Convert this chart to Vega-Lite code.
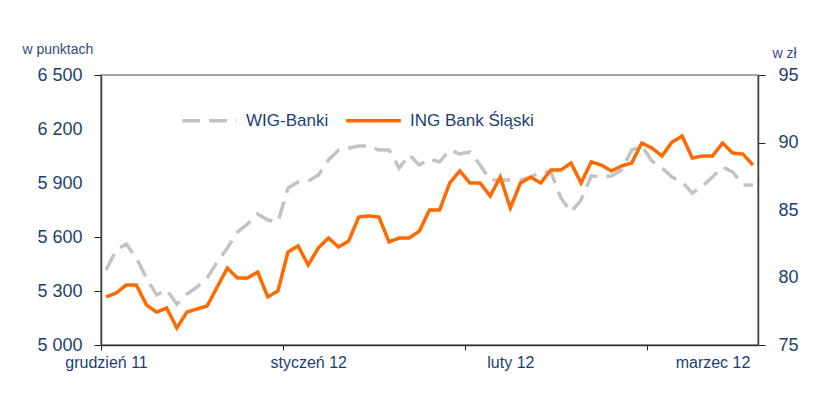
{
  "$schema": "https://vega.github.io/schema/vega-lite/v6.json",
  "width": 657,
  "height": 270,
  "autosize": {"type": "none"},
  "padding": {"left": 101, "top": 75, "right": 64, "bottom": 58},
  "background": "white",
  "config": {
    "font": "Liberation Sans",
    "view": {"stroke": "#8c8c8c", "strokeWidth": 1.5},
    "axis": {"domainColor": "#404040", "domainWidth": 1.5, "tickColor": "#202020", "tickWidth": 1, "labelColor": "#1B3F73", "labelFont": "Liberation Sans", "grid": false, "titleColor": "#2E4E7E", "titleFont": "Liberation Sans", "titleFontWeight": "normal"}
  },
  "data": {"values": [
    {"i":0,"s":"WIG-Banki","v":5417},{"i":1,"s":"WIG-Banki","v":5528},{"i":2,"s":"WIG-Banki","v":5561},{"i":3,"s":"WIG-Banki","v":5483},{"i":4,"s":"WIG-Banki","v":5372},{"i":5,"s":"WIG-Banki","v":5278},{"i":6,"s":"WIG-Banki","v":5306},{"i":7,"s":"WIG-Banki","v":5228},{"i":8,"s":"WIG-Banki","v":5283},{"i":9,"s":"WIG-Banki","v":5322},{"i":10,"s":"WIG-Banki","v":5372},{"i":11,"s":"WIG-Banki","v":5461},{"i":12,"s":"WIG-Banki","v":5539},{"i":13,"s":"WIG-Banki","v":5628},{"i":14,"s":"WIG-Banki","v":5672},{"i":15,"s":"WIG-Banki","v":5728},{"i":16,"s":"WIG-Banki","v":5694},{"i":17,"s":"WIG-Banki","v":5683},{"i":18,"s":"WIG-Banki","v":5872},{"i":19,"s":"WIG-Banki","v":5906},{"i":20,"s":"WIG-Banki","v":5911},{"i":21,"s":"WIG-Banki","v":5944},{"i":22,"s":"WIG-Banki","v":6028},{"i":23,"s":"WIG-Banki","v":6083},{"i":24,"s":"WIG-Banki","v":6094},{"i":25,"s":"WIG-Banki","v":6106},{"i":26,"s":"WIG-Banki","v":6106},{"i":27,"s":"WIG-Banki","v":6083},{"i":28,"s":"WIG-Banki","v":6083},{"i":29,"s":"WIG-Banki","v":5983},{"i":30,"s":"WIG-Banki","v":6056},{"i":31,"s":"WIG-Banki","v":6000},{"i":32,"s":"WIG-Banki","v":6033},{"i":33,"s":"WIG-Banki","v":6017},{"i":34,"s":"WIG-Banki","v":6083},{"i":35,"s":"WIG-Banki","v":6061},{"i":36,"s":"WIG-Banki","v":6072},{"i":37,"s":"WIG-Banki","v":6000},{"i":38,"s":"WIG-Banki","v":5917},{"i":39,"s":"WIG-Banki","v":5917},{"i":40,"s":"WIG-Banki","v":5917},{"i":41,"s":"WIG-Banki","v":5917},{"i":42,"s":"WIG-Banki","v":5933},{"i":43,"s":"WIG-Banki","v":5961},{"i":44,"s":"WIG-Banki","v":5961},{"i":45,"s":"WIG-Banki","v":5817},{"i":46,"s":"WIG-Banki","v":5739},{"i":47,"s":"WIG-Banki","v":5806},{"i":48,"s":"WIG-Banki","v":5939},{"i":49,"s":"WIG-Banki","v":5933},{"i":50,"s":"WIG-Banki","v":5939},{"i":51,"s":"WIG-Banki","v":5972},{"i":52,"s":"WIG-Banki","v":6083},{"i":53,"s":"WIG-Banki","v":6106},{"i":54,"s":"WIG-Banki","v":6022},{"i":55,"s":"WIG-Banki","v":5983},{"i":56,"s":"WIG-Banki","v":5933},{"i":57,"s":"WIG-Banki","v":5906},{"i":58,"s":"WIG-Banki","v":5844},{"i":59,"s":"WIG-Banki","v":5883},{"i":60,"s":"WIG-Banki","v":5933},{"i":61,"s":"WIG-Banki","v":5989},{"i":62,"s":"WIG-Banki","v":5961},{"i":63,"s":"WIG-Banki","v":5889},{"i":64,"s":"WIG-Banki","v":5889},
    {"i":0,"s":"ING Bank Śląski","v":78.56},{"i":1,"s":"ING Bank Śląski","v":78.85},{"i":2,"s":"ING Bank Śląski","v":79.44},{"i":3,"s":"ING Bank Śląski","v":79.44},{"i":4,"s":"ING Bank Śląski","v":77.96},{"i":5,"s":"ING Bank Śląski","v":77.44},{"i":6,"s":"ING Bank Śląski","v":77.74},{"i":7,"s":"ING Bank Śląski","v":76.26},{"i":8,"s":"ING Bank Śląski","v":77.44},{"i":9,"s":"ING Bank Śląski","v":77.67},{"i":10,"s":"ING Bank Śląski","v":77.89},{"i":11,"s":"ING Bank Śląski","v":79.3},{"i":12,"s":"ING Bank Śląski","v":80.7},{"i":13,"s":"ING Bank Śląski","v":79.96},{"i":14,"s":"ING Bank Śląski","v":79.96},{"i":15,"s":"ING Bank Śląski","v":80.41},{"i":16,"s":"ING Bank Śląski","v":78.56},{"i":17,"s":"ING Bank Śląski","v":79.0},{"i":18,"s":"ING Bank Śląski","v":81.89},{"i":19,"s":"ING Bank Śląski","v":82.33},{"i":20,"s":"ING Bank Śląski","v":80.93},{"i":21,"s":"ING Bank Śląski","v":82.19},{"i":22,"s":"ING Bank Śląski","v":82.93},{"i":23,"s":"ING Bank Śląski","v":82.26},{"i":24,"s":"ING Bank Śląski","v":82.7},{"i":25,"s":"ING Bank Śląski","v":84.48},{"i":26,"s":"ING Bank Śląski","v":84.56},{"i":27,"s":"ING Bank Śląski","v":84.48},{"i":28,"s":"ING Bank Śląski","v":82.63},{"i":29,"s":"ING Bank Śląski","v":82.93},{"i":30,"s":"ING Bank Śląski","v":82.93},{"i":31,"s":"ING Bank Śląski","v":83.44},{"i":32,"s":"ING Bank Śląski","v":85.0},{"i":33,"s":"ING Bank Śląski","v":85.0},{"i":34,"s":"ING Bank Śląski","v":87.0},{"i":35,"s":"ING Bank Śląski","v":87.89},{"i":36,"s":"ING Bank Śląski","v":87.0},{"i":37,"s":"ING Bank Śląski","v":87.0},{"i":38,"s":"ING Bank Śląski","v":86.04},{"i":39,"s":"ING Bank Śląski","v":87.44},{"i":40,"s":"ING Bank Śląski","v":85.15},{"i":41,"s":"ING Bank Śląski","v":87.0},{"i":42,"s":"ING Bank Śląski","v":87.44},{"i":43,"s":"ING Bank Śląski","v":87.0},{"i":44,"s":"ING Bank Śląski","v":87.96},{"i":45,"s":"ING Bank Śląski","v":87.96},{"i":46,"s":"ING Bank Śląski","v":88.48},{"i":47,"s":"ING Bank Śląski","v":87.0},{"i":48,"s":"ING Bank Śląski","v":88.56},{"i":49,"s":"ING Bank Śląski","v":88.33},{"i":50,"s":"ING Bank Śląski","v":87.89},{"i":51,"s":"ING Bank Śląski","v":88.26},{"i":52,"s":"ING Bank Śląski","v":88.48},{"i":53,"s":"ING Bank Śląski","v":89.96},{"i":54,"s":"ING Bank Śląski","v":89.59},{"i":55,"s":"ING Bank Śląski","v":89.0},{"i":56,"s":"ING Bank Śląski","v":90.04},{"i":57,"s":"ING Bank Śląski","v":90.48},{"i":58,"s":"ING Bank Śląski","v":88.85},{"i":59,"s":"ING Bank Śląski","v":89.0},{"i":60,"s":"ING Bank Śląski","v":89.0},{"i":61,"s":"ING Bank Śląski","v":89.96},{"i":62,"s":"ING Bank Śląski","v":89.22},{"i":63,"s":"ING Bank Śląski","v":89.15},{"i":64,"s":"ING Bank Śląski","v":88.33}
  ]},
  "layer": [
    {
      "transform": [{"filter": "datum.s == 'WIG-Banki'"}],
      "mark": {"type": "line", "strokeWidth": 3.5, "strokeCap": "butt"},
      "encoding": {
        "x": {"field": "i", "type": "quantitative", "scale": {"domain": [-0.5, 64.5], "nice": false, "zero": false},
          "axis": {"orient": "bottom", "title": null, "values": [-0.5, 17.5, 35.5, 53.5], "labels": false, "ticks": true, "tickSize": 5, "domainColor": "#303030"}},
        "y": {"field": "v", "type": "quantitative", "scale": {"domain": [5000, 6500], "nice": false, "zero": false},
          "axis": {"orient": "left", "values": [5000, 5300, 5600, 5900, 6200, 6500], "labelExpr": "replace(format(datum.value, ','), ',', ' ')", "labelFontSize": 18, "tickSize": 7, "labelPadding": 12,
            "tickOpacity": {"condition": {"test": "datum.value == 5900 || datum.value == 6200", "value": 0}, "value": 1},
            "title": "w punktach", "titleAngle": 0, "titleAlign": "left", "titleBaseline": "alphabetic", "titleX": -79, "titleY": -22, "titleFontSize": 14}},
        "color": {"field": "s", "type": "nominal", "scale": {"domain": ["WIG-Banki", "ING Bank Śląski"], "range": ["#C3C3C3", "#FF6A00"]},
          "legend": {"orient": "none", "legendX": 79, "legendY": 16, "direction": "horizontal", "title": null, "symbolType": "stroke", "symbolSize": 3000, "symbolStrokeWidth": 3.5, "labelFontSize": 17, "labelColor": "#1B3F73", "labelOffset": 7, "columnPadding": 10, "labelFont": "Liberation Sans"}},
        "strokeDash": {"field": "s", "type": "nominal", "scale": {"domain": ["WIG-Banki", "ING Bank Śląski"], "range": [[18, 9], [1, 0]]}, "legend": {"orient": "none", "legendX": 79, "legendY": 16, "direction": "horizontal", "title": null}}
      }
    },
    {
      "transform": [{"filter": "datum.s == 'ING Bank Śląski'"}],
      "mark": {"type": "line", "strokeWidth": 3.5},
      "encoding": {
        "x": {"field": "i", "type": "quantitative",
          "axis": {"orient": "bottom", "title": null, "values": [0, 20, 40, 60], "ticks": false, "domain": false, "labelFlush": false, "labelFontSize": 16, "labelPadding": 9,
            "labelExpr": "datum.value == 0 ? 'grudzień 11' : datum.value == 20 ? 'styczeń 12' : datum.value == 40 ? 'luty 12' : 'marzec 12'"}},
        "y": {"field": "v", "type": "quantitative", "scale": {"domain": [75, 95], "nice": false, "zero": false},
          "axis": {"orient": "right", "values": [75, 80, 85, 90, 95], "labelFontSize": 18, "tickSize": 7, "labelPadding": 13,
            "tickOpacity": {"condition": {"test": "datum.value == 80 || datum.value == 85", "value": 0}, "value": 1},
            "title": "w zł", "titleAngle": 0, "titleAlign": "left", "titleBaseline": "alphabetic", "titleX": 14, "titleY": -18, "titleFontSize": 14}},
        "color": {"field": "s", "type": "nominal"},
        "strokeDash": {"field": "s", "type": "nominal"}
      }
    }
  ],
  "resolve": {"scale": {"y": "independent"}, "axis": {"y": "independent", "x": "independent"}}
}
